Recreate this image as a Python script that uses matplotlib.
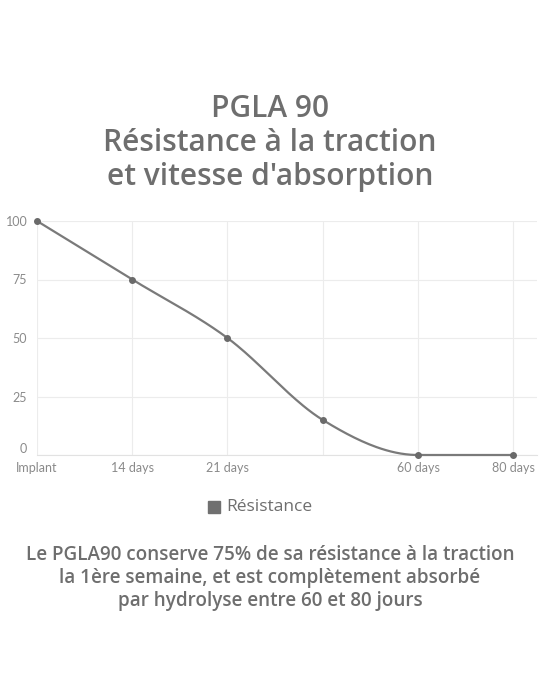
import numpy as np
import matplotlib
matplotlib.use("Agg")
import matplotlib.pyplot as plt
from matplotlib.patches import Rectangle

categories = ["Implant", "14 days", "21 days", "", "60 days", "80 days"]
resistance = [100, 75, 50, 15, 0, 0]
y_ticks = [0, 25, 50, 75, 100]

title = "PGLA 90\nRésistance à la traction\net vitesse d'absorption"
caption = ("Le PGLA90 conserve 75% de sa résistance à la traction\n"
           "la 1ère semaine, et est complètement absorbé\n"
           "par hydrolyse entre 60 et 80 jours")

TEXT = "#6e6e6e"
LINE = "#7a7a7a"
GRID = "#ececec"


def monotone_curve(x, y, n=40):
    """Fritsch-Carlson monotone cubic, like a chart.js smooth line."""
    x = np.asarray(x, float)
    y = np.asarray(y, float)
    h = np.diff(x)
    d = np.diff(y) / h
    m = np.zeros_like(y)
    m[0], m[-1] = d[0], d[-1]
    for i in range(1, len(y) - 1):
        if d[i - 1] * d[i] <= 0:
            m[i] = 0
        else:
            m[i] = (d[i - 1] + d[i]) / 2
    for i in range(len(d)):
        if d[i] == 0:
            m[i] = m[i + 1] = 0
            continue
        a, b = m[i] / d[i], m[i + 1] / d[i]
        s = a * a + b * b
        if s > 9:
            t = 3 / np.sqrt(s)
            m[i], m[i + 1] = t * a * d[i], t * b * d[i]
    xs, ys = [], []
    for i in range(len(d)):
        t = np.linspace(0, 1, n)
        h00 = 2 * t**3 - 3 * t**2 + 1
        h10 = t**3 - 2 * t**2 + t
        h01 = -2 * t**3 + 3 * t**2
        h11 = t**3 - t**2
        xs.append(x[i] + t * h[i])
        ys.append(h00 * y[i] + h10 * h[i] * m[i] + h01 * y[i + 1] + h11 * h[i] * m[i + 1])
    return np.concatenate(xs), np.concatenate(ys)


fig = plt.figure(figsize=(5.4, 7), dpi=100)
fig.patch.set_facecolor("white")

ax = fig.add_axes([37 / 540, 245 / 700, 500 / 540, 234 / 700])
x = np.arange(len(categories))
cx, cy = monotone_curve(x, resistance)
ax.plot(cx, cy, color=LINE, lw=1.6, zorder=3, clip_on=False)
ax.scatter(x, resistance, s=16, color="#6a6a6a", zorder=4, clip_on=False)

ax.set_xlim(0, 5.25)
ax.set_ylim(0, 100)
ax.set_xticks(x)
ax.set_xticklabels(categories)
ax.set_yticks(y_ticks)
ax.grid(True, color=GRID, lw=0.8)
ax.set_axisbelow(True)
for s in ax.spines.values():
    s.set_visible(False)
ax.spines["bottom"].set_visible(True)
ax.spines["bottom"].set_color("#e2e2e2")
ax.tick_params(length=0, labelsize=9, labelcolor="#8a8a8a")
for lbl in ax.get_xticklabels() + ax.get_yticklabels():
    lbl.set_family("Lato")
ax.tick_params(axis="x", pad=5)
ax.tick_params(axis="y", pad=7)
ax.get_yticklabels()[0].set_va("bottom")

fig.text(0.5, 1 - 143 / 700, title, ha="center", va="center", fontsize=21.5,
         family="Open Sans", weight="semibold", color=TEXT, linespacing=1.19)

# legend
fig.patches.append(Rectangle((208 / 540, 1 - 513 / 700), 12 / 540, 12 / 700,
                             transform=fig.transFigure, color="#707070"))
fig.text(226 / 540, 1 - 507 / 700, "Résistance", ha="left", va="center",
         fontsize=12.5, family="Open Sans", color=TEXT)

fig.text(0.5, 1 - 578 / 700, caption, ha="center", va="center", fontsize=13.6,
         family="Open Sans", weight="semibold", color=TEXT, linespacing=1.17)

fig.savefig("out.png", dpi=100, facecolor="white")
